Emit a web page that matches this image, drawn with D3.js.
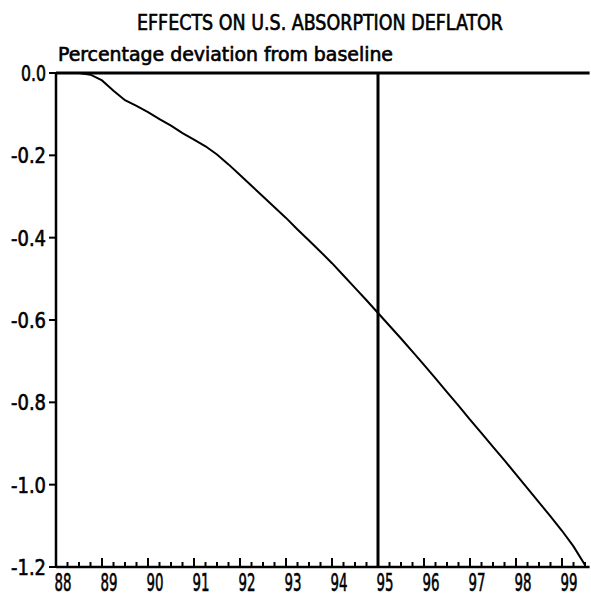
<!DOCTYPE html>
<html><head><meta charset="utf-8">
<script src="https://cdn.jsdelivr.net/npm/d3@7"></script>
<style>body{margin:0;background:#fff}svg{display:block}text{font-family:"DejaVu Sans Condensed","DejaVu Sans",sans-serif;fill:#000;stroke:#000;stroke-width:0.6px}</style>
</head><body>
<svg id="c" width="591" height="597"></svg>
<script>
const title = "EFFECTS ON U.S. ABSORPTION DEFLATOR";
const subtitle = "Percentage deviation from baseline";
const yTicks = [0.0, -0.2, -0.4, -0.6, -0.8, -1.0, -1.2];
const yTickLabels = ["0.0", "-0.2", "-0.4", "-0.6", "-0.8", "-1.0", "-1.2"];
const years = [1988,1989,1990,1991,1992,1993,1994,1995,1996,1997,1998,1999];
const yearLabels = ["88","89","90","91","92","93","94","95","96","97","98","99"];
const markerYear = 1995;
// quarterly observations
const quarters = [
 1988.00,1988.25,1988.50,1988.75,1989.00,1989.25,1989.50,1989.75,
 1990.00,1990.25,1990.50,1990.75,1991.00,1991.25,1991.50,1991.75,
 1992.00,1992.25,1992.50,1992.75,1993.00,1993.25,1993.50,1993.75,
 1994.00,1994.25,1994.50,1994.75,1995.00,1995.25,1995.50,1995.75,
 1996.00,1996.25,1996.50,1996.75,1997.00,1997.25,1997.50,1997.75,
 1998.00,1998.25,1998.50,1998.75,1999.00,1999.25,1999.50];
const values = [
 0.000,0.000,0.000,-0.004,-0.018,-0.043,-0.066,-0.080,
 -0.095,-0.112,-0.128,-0.146,-0.162,-0.178,-0.198,-0.222,
 -0.248,-0.274,-0.300,-0.326,-0.352,-0.380,-0.407,-0.434,
 -0.462,-0.492,-0.522,-0.552,-0.583,-0.614,-0.645,-0.677,
 -0.709,-0.742,-0.775,-0.808,-0.842,-0.875,-0.908,-0.941,
 -0.975,-1.009,-1.043,-1.077,-1.112,-1.150,-1.195];

const svg = d3.select("#c");
const x = d3.scaleLinear().domain([1988, 1999.6]).range([56, 589.6]);
const y = d3.scaleLinear().domain([-1.2, 0]).range([567, 73]);

// title
svg.append("text").attr("x", 320).attr("y", 30).attr("text-anchor","middle")
  .attr("font-size", 21).attr("textLength", 366).attr("lengthAdjust","spacingAndGlyphs").text(title);
svg.append("text").attr("x", 58).attr("y", 61)
  .attr("font-size", 19).attr("textLength", 335).attr("lengthAdjust","spacingAndGlyphs").text(subtitle);

// y axis ticks and labels
const g = svg.append("g");
yTicks.forEach((v,i) => {
  g.append("line").attr("x1", x(1988)-7).attr("x2", x(1988)).attr("y1", y(v)).attr("y2", y(v))
    .attr("stroke","#000").attr("stroke-width",2);
  const w = yTickLabels[i].length === 3 ? 25 : 35;
  g.append("text").attr("x", 46).attr("y", y(v)+8).attr("text-anchor","end")
    .attr("font-size", 22).attr("textLength", w).attr("lengthAdjust","spacingAndGlyphs").text(yTickLabels[i]);
});

// bottom axis with quarterly ticks
const qTicks = d3.range(1988, 1999.51, 0.25);
qTicks.forEach(t => {
  const major = Math.abs(t - Math.round(t)) < 1e-6;
  g.append("line").attr("x1", x(t)).attr("x2", x(t)).attr("y1", y(-1.2)).attr("y2", y(-1.2) - (major ? 9 : 5))
    .attr("stroke","#000").attr("stroke-width", 2);
});
years.forEach((yr,i) => {
  g.append("text").attr("x", x(yr)+7).attr("y", 591).attr("text-anchor","middle")
    .attr("font-size", 25).attr("textLength", 17).attr("lengthAdjust","spacingAndGlyphs").text(yearLabels[i]);
});

// axis lines
g.append("line").attr("x1", x(1988)).attr("x2", x(1999.6)).attr("y1", y(-1.2)).attr("y2", y(-1.2))
  .attr("stroke","#000").attr("stroke-width",2.5);
g.append("line").attr("x1", x(1988)).attr("x2", x(1988)).attr("y1", y(0)).attr("y2", y(-1.2))
  .attr("stroke","#000").attr("stroke-width",2.5);
g.append("line").attr("x1", x(1988)).attr("x2", x(1999.6)).attr("y1", y(0)).attr("y2", y(0))
  .attr("stroke","#000").attr("stroke-width",3);
g.append("line").attr("x1", x(markerYear)).attr("x2", x(markerYear)).attr("y1", y(0)).attr("y2", y(-1.2))
  .attr("stroke","#000").attr("stroke-width",3);

// series
const line = d3.line().x((d,i) => x(quarters[i])).y(d => y(d));
svg.append("path").datum(values).attr("d", line).attr("fill","none")
  .attr("stroke","#000").attr("stroke-width",2);
</script>
</body></html>
